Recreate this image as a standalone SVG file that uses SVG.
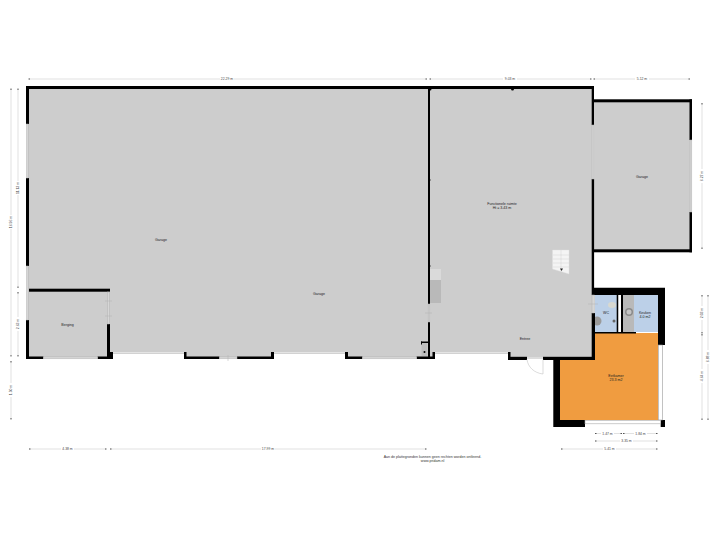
<svg xmlns="http://www.w3.org/2000/svg" width="720" height="540" viewBox="0 0 720 540">
<style>
text{font-family:"Liberation Sans",Arial,sans-serif;fill:#222;text-anchor:middle}
.l{font-size:3.6px}
.d{font-size:3.4px;fill:#444}
.f{font-size:3.6px;fill:#333}
.w{fill:#000}
.win{fill:#d6d6d6;stroke:#b4b4b4;stroke-width:.5}
.dim{stroke:#d4d4d4;stroke-width:.7;fill:none}
.tick{stroke:#b0b0b0;stroke-width:.5;fill:none}
.e{fill:#555}
.bg{fill:#fff}
</style>
<rect width="720" height="540" fill="#fff"/>
<g id="floors">
<rect x="28" y="88" width="565" height="266" fill="#cdcdcd"/>
<rect x="28" y="354" width="82" height="3" fill="#cdcdcd"/>
<rect x="184" y="352" width="90" height="5" fill="#cdcdcd"/>
<rect x="345" y="352" width="90" height="5" fill="#cdcdcd"/>
<rect x="508" y="352" width="86" height="5" fill="#cdcdcd"/>
<rect x="594" y="101" width="97" height="150" fill="#cdcdcd"/>
<rect x="595" y="295" width="22" height="37" fill="#bcd0e8"/>
<rect x="623" y="295" width="35" height="37" fill="#bcd0e8"/>
<rect x="623" y="295" width="11" height="37" fill="#b9b9b9"/>
<path d="M595 333H658V420H560V360H595Z" fill="#f09c40"/>
<rect x="430" y="269" width="11" height="11" fill="#dadada"/>
<rect x="430" y="280" width="11" height="23" fill="#b9b9b9"/>
<path d="M552.500 250H569V274L552.500 269Z" fill="#f4f4f4" stroke="#ddd" stroke-width=".4"/>
<path d="M561 250V272M553 255H569M553 259H569M553 263H569M553 267H569" stroke="#ccc" stroke-width=".4" fill="none"/>
<path d="M560 268.500l1.500 2.500 1.500-2.500z" fill="#222"/>
<rect x="421.500" y="343" width="6" height="13" fill="#bdbdbd"/>
<ellipse cx="612" cy="305" rx="4" ry="3" fill="#d8d8d0"/>
<circle cx="597" cy="321" r="4.500" fill="#9a9a9a"/>
<circle cx="614" cy="321" r="1.500" fill="#666"/>
<circle cx="629" cy="312" r="4" fill="#8a8a8a"/><circle cx="629" cy="312" r="2.500" fill="#c4c4c4"/>
</g>
<g id="walls">
<path class="w" d="M26 86H594V125H591.700V89H430V304H428V89H29V124H26Z"/>
<rect class="w" x="26" y="178" width="3" height="88"/>
<rect class="w" x="26" y="320" width="3" height="39"/>
<rect class="w" x="26" y="356.500" width="17.500" height="2.500"/>
<rect class="w" x="29" y="288.700" width="81" height="3"/>
<rect class="w" x="107" y="324" width="3" height="34"/>
<rect class="w" x="97.500" y="356.500" width="15" height="2.500"/>
<rect class="w" x="108.500" y="352" width="4.500" height="7"/>
<rect class="w" x="184" y="352" width="2.500" height="7"/>
<rect class="w" x="184" y="356.500" width="35.500" height="2.500"/>
<rect class="w" x="237" y="356.500" width="36.500" height="2.500"/>
<rect class="w" x="271" y="352" width="3" height="7"/>
<rect class="w" x="345" y="352" width="3" height="7"/>
<rect class="w" x="345" y="356.500" width="17.500" height="2.500"/>
<rect class="w" x="416.500" y="356.500" width="18.500" height="2.500"/>
<rect class="w" x="428" y="322" width="2" height="35"/>
<rect class="w" x="432.500" y="352" width="2.500" height="7"/>
<rect class="w" x="421" y="341.500" width="7" height="1.500"/>
<rect class="w" x="421" y="341.500" width="1" height="3"/>
<circle class="w" cx="424.500" cy="352" r="1"/>
<circle class="w" cx="512.500" cy="89" r="1.500"/>
<circle class="w" cx="430" cy="89" r="1.500"/>
<circle class="w" cx="429.500" cy="180" r="1"/>
<circle class="w" cx="429.500" cy="266" r="1"/>
<rect class="w" x="591.700" y="179" width="2.400" height="116"/>
<rect class="w" x="591.700" y="313" width="3.300" height="20"/>
<rect class="w" x="591.700" y="333" width="3.300" height="27"/>
<rect class="w" x="594" y="99.300" width="98" height="3"/>
<rect class="w" x="689.500" y="99.300" width="2.500" height="40.700"/>
<rect class="w" x="689.500" y="212" width="2.500" height="40.300"/>
<rect class="w" x="594" y="249.300" width="98" height="3"/>
<path class="w" d="M594 287.700H665V345H658V295H594Z"/>
<rect class="w" x="616.700" y="295" width="1.800" height="38"/>
<rect class="w" x="621" y="295" width="2" height="38"/>
<rect class="w" x="594" y="332" width="42" height="1.500"/>
<rect class="w" x="543" y="356.800" width="52" height="3.200"/>
<rect class="w" x="508" y="356.800" width="19" height="3.200"/>
<rect class="w" x="508" y="352" width="2.500" height="7"/>
<path class="w" d="M553.300 360H560V420H585V427H553.300Z"/>
<rect class="w" x="660.700" y="420" width="4.300" height="7"/>
</g>
<g id="windows">
<rect class="win" x="26.500" y="124" width="2" height="54"/>
<rect class="win" x="26.500" y="266" width="2" height="54"/>
<rect class="win" x="43.500" y="356.800" width="54" height="2"/>
<rect class="win" x="107.500" y="292" width="2" height="32"/>
<rect class="win" x="219.500" y="356.800" width="17.500" height="2"/>
<rect class="win" x="362.500" y="356.800" width="54" height="2"/>
<rect class="win" x="428.200" y="304" width="1.600" height="18"/>
<rect class="win" x="592" y="125" width="1.800" height="54"/>
<rect class="win" x="592" y="295" width="2.500" height="18"/>
<rect class="win" x="592" y="333" width="0" height="0"/>
<rect class="win" x="690" y="140" width="1.800" height="72"/>
<rect x="658.500" y="345" width="4" height="75" fill="#fff" stroke="#999" stroke-width=".6"/>
<rect x="585" y="420.300" width="75.700" height="3.500" fill="#fff" stroke="#aaa" stroke-width=".6"/>
<rect x="618.500" y="295" width="2.500" height="37" fill="#fff"/>
<path d="M113 352.700H184M274 352.700H345M435 352.700H508" stroke="#e4e4e4" stroke-width="1.200"/>
<rect x="527" y="357" width="16" height="2" fill="#dcdcdc"/>
<path d="M527 359.500C528 367 534 373 543 374V359.500" fill="#fff" stroke="#c4c4c4" stroke-width=".6"/>
<path class="tick" d="M105 301H112M105 316H112M228 355V361M425 313H432M588 304H598"/>
</g>
<g id="dimensions">
<path class="dim" d="M29 79H426M430 79H590.500M594 79H689M11 89V355M18 89V287M18 292V356M11 361V419M29 449H106M110 449H426M702 103V248M702 295V333M708 295V419M702 334V419M595 433.500H621.500M623 433.500H657M595 441H657M561 449H657"/>
<path class="e" d="M28.500 78.500h1.500v1h-1.500zM425.500 78.500h1.500v1h-1.500zM429.500 78.500h1.500v1h-1.500zM590 78.500h1.500v1h-1.500zM593.500 78.500h1.500v1h-1.500zM688.500 78.500h1.500v1h-1.500zM10.500 88.500h1v1.500h-1zM17.500 88.500h1v1.500h-1zM17.500 286.500h1v1.500h-1zM17.500 292h1v1.500h-1zM17.500 355h1v1.500h-1zM10.500 355h1v1.500h-1zM10.500 361h1v1.500h-1zM10.500 418h1v1.500h-1zM29 448.500h1.500v1h-1.500zM105 448.500h1.500v1h-1.500zM110 448.500h1.500v1h-1.500zM425 448.500h1.500v1h-1.500zM701.500 103h1v1.500h-1zM701.500 247.500h1v1.500h-1zM701.500 295h1v1.500h-1zM707.500 295h1v1.500h-1zM701.500 332h1v1.500h-1zM701.500 334h1v1.500h-1zM701.500 418.500h1v1.500h-1zM707.500 418.500h1v1.500h-1zM595 433h1.500v1h-1.500zM620.500 433h1.500v1h-1.500zM623 433h1.500v1h-1.500zM656 433h1.500v1h-1.500zM595 440.500h1.500v1h-1.500zM656 440.500h1.500v1h-1.500zM561 448.500h1.500v1h-1.500zM656 448.500h1.500v1h-1.500z"/>
<g class="bg">
<rect x="220" y="77" width="14" height="4"/><rect x="503" y="77" width="14" height="4"/><rect x="635" y="77" width="14" height="4"/>
<rect x="9" y="215" width="4" height="14"/><rect x="16" y="181" width="4" height="14"/><rect x="16" y="317" width="4" height="14"/><rect x="9" y="383" width="4" height="14"/>
<rect x="61" y="447" width="13" height="4"/><rect x="261" y="447" width="14" height="4"/><rect x="700" y="169" width="4" height="14"/>
<rect x="700" y="306" width="4" height="14"/><rect x="706" y="350" width="4" height="14"/><rect x="700" y="369" width="4" height="14"/>
<rect x="601" y="431.500" width="13" height="4"/><rect x="634" y="431.500" width="13" height="4"/><rect x="620" y="439" width="13" height="4"/><rect x="603" y="447" width="13" height="4"/>
</g>
<text class="d" x="227" y="80">22.29 m</text>
<text class="d" x="510" y="80">9.03 m</text>
<text class="d" x="642" y="80">5.12 m</text>
<text class="d" transform="translate(12.200 222) rotate(-90)">16.96 m</text>
<text class="d" transform="translate(19.200 188) rotate(-90)">11.13 m</text>
<text class="d" transform="translate(19.200 324) rotate(-90)">2.63 m</text>
<text class="d" transform="translate(12.200 390) rotate(-90)">1.50 m</text>
<text class="d" x="67.500" y="450.200">4.38 m</text>
<text class="d" x="268" y="450.200">17.99 m</text>
<text class="d" transform="translate(703.200 176) rotate(-90)">6.27 m</text>
<text class="d" transform="translate(703.200 313) rotate(-90)">2.03 m</text>
<text class="d" transform="translate(709.200 357) rotate(-90)">6.88 m</text>
<text class="d" transform="translate(703.200 376) rotate(-90)">4.64 m</text>
<text class="d" x="607.500" y="434.700">1.47 m</text>
<text class="d" x="640.500" y="434.700">1.84 m</text>
<text class="d" x="626.500" y="442.200">3.35 m</text>
<text class="d" x="609.500" y="450.200">5.41 m</text>
</g>
<g id="room-garage"><text class="l" x="161" y="240.500">Garage</text></g>
<g id="room-garage2"><text class="l" x="319" y="294.500">Garage</text></g>
<g id="room-berging"><text class="l" x="67.500" y="325.500">Berging</text></g>
<g id="room-functionele"><text class="l" x="502" y="205">Functionele ruimte</text><text class="l" x="502" y="209">Ht = 3.43 m</text></g>
<g id="room-garage3"><text class="l" x="642" y="177.500">Garage</text></g>
<g id="room-entree"><text class="l" x="525" y="339.500">Entree</text></g>
<g id="room-wc"><text class="l" x="606" y="314">WC</text></g>
<g id="room-keuken"><text class="l" x="645" y="314">Keuken</text><text class="l" x="645" y="318">4.0 m2</text></g>
<g id="room-eetkamer"><text class="l" x="616" y="376.500">Eetkamer</text><text class="l" x="616" y="380.800">23.3 m2</text></g>
<g id="footer"><text class="f" x="432.500" y="458">Aan de plattegronden kunnen geen rechten worden ontleend.</text><text class="f" x="432.500" y="462.300">www.pridam.nl</text></g>
</svg>
